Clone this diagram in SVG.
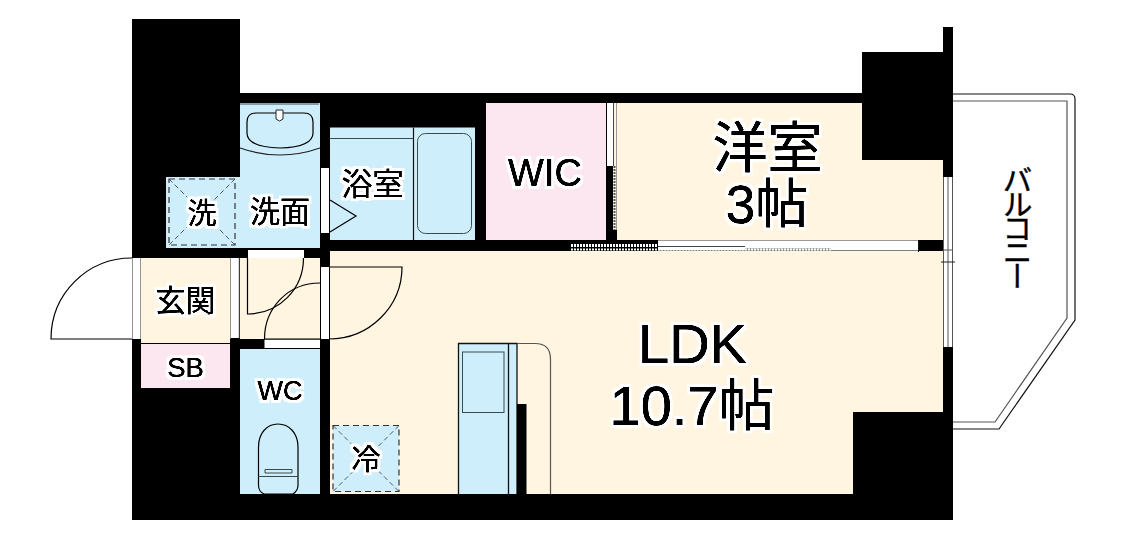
<svg xmlns="http://www.w3.org/2000/svg" width="1122" height="541" viewBox="0 0 1122 541">
<defs>
<filter id="halo" x="-20%" y="-30%" width="140%" height="160%" color-interpolation-filters="sRGB">
<feMorphology in="SourceAlpha" operator="dilate" radius="3" result="m"/>
<feGaussianBlur in="m" stdDeviation=".5" result="b"/>
<feFlood flood-color="#fff"/>
<feComposite in2="b" operator="in" result="white"/>
<feGaussianBlur in="SourceAlpha" stdDeviation=".45"/>
<feComponentTransfer result="bold"><feFuncA type="linear" slope="2.2"/></feComponentTransfer>
<feMerge><feMergeNode in="white"/><feMergeNode in="bold"/></feMerge>
</filter>
</defs>
<style>
.w{fill:#000}.blue{fill:#cfeefc}.cream{fill:#fff5e1}.pink{fill:#fce6f0}.gap{fill:#fff}
.l{fill:none;stroke:#000;stroke-width:1.2}.g{fill:none;stroke:#3a4a4a;stroke-width:1}
.d{fill:none;stroke:#333;stroke-width:1.2;stroke-dasharray:6 4}.dx{fill:none;stroke:#333;stroke-width:.8;stroke-dasharray:5 3}
text{font-family:"Liberation Sans","Noto Sans CJK JP",sans-serif;fill:#000;text-anchor:middle;filter:url(#halo)}
</style>
<g id="walls">
<rect class="w" x="132" y="19" width="108" height="501"/>
<rect class="w" x="132" y="93" width="821" height="427"/>
<rect class="w" x="862" y="52" width="91" height="108"/>
<rect class="w" x="943" y="27" width="10" height="25"/>
</g>
<g id="balcony">
<path d="M953 94H1070Q1075 94 1075 99V320L999 429H953" fill="#fff" stroke="#111" stroke-width="1.2"/>
<path d="M953 101H1067V318L995 422H953" fill="none" stroke="#555" stroke-width="1.2"/>
<text id="balcony-label" x="1015" y="165" font-size="30" letter-spacing="-6" style="writing-mode:vertical-rl;text-anchor:start;filter:none;stroke:#000;stroke-width:.4">バルコニー</text>
</g>
<g id="room-wash">
<path class="blue" d="M240 103H320V248H166V177H240Z"/>
<path class="g" d="M240 104H319"/>
<path d="M240 148Q280 162 320 148" fill="none" stroke="#222" stroke-width="1.2"/>
<path class="l" d="M256 113H304Q313 113 313 122V133Q313 147 280 148Q247 147 247 133V122Q247 113 256 113Z"/>
<path d="M276 110H283V119L279.500 121L276 119Z" fill="#fff" stroke="#222"/>
<rect class="d" x="169" y="179" width="66" height="66"/>
<path class="dx" d="M169 179L235 245M235 179L169 245"/>
<text x="202" y="224" font-size="29">洗</text>
<text x="280" y="222" font-size="30">洗面</text>
</g>
<g id="room-bath">
<rect class="blue" x="330" y="127.500" width="145" height="112.500"/>
<path class="g" d="M330 138.500H413"/>
<path d="M413.500 127.500V240" stroke="#111" stroke-width="1.2"/>
<rect class="g" x="417.500" y="133.500" width="54" height="100" rx="8"/>
<path class="l" d="M330 200L356 216L330 232"/>
<rect class="gap" x="321" y="168" width="8" height="65"/>
<text x="372.500" y="195" font-size="31">浴室</text>
</g>
<g id="room-wic">
<rect class="pink" x="486" y="103" width="120" height="137"/>
<text x="545" y="186" font-size="38">WIC</text>
</g>
<g id="room-western">
<path class="cream" d="M613 103H862V160H943V240H617V230H613Z"/>
<rect class="gap" x="607" y="103" width="6" height="63"/>
<path d="M613.500 103V166" stroke="#444" stroke-width="1"/>
<path d="M616.500 103V230" stroke="#999" stroke-width="1"/>
<rect class="w" x="607" y="166" width="6" height="64"/>
<path d="M614.500 166V230" stroke="#555" stroke-width="2" stroke-dasharray="2 1"/>
<text x="767.500" y="167" font-size="55">洋室</text>
<text x="767" y="223" font-size="53">3帖</text>
</g>
<g id="room-ldk">
<path class="cream" d="M330 251H943V412H853V494H330Z"/>
<rect class="gap" x="321" y="267" width="8" height="72"/>
<path class="l" d="M329 267H402C402 307 369 339 329 339"/>
<rect class="blue" x="458.500" y="343" width="58.500" height="151"/>
<path d="M458.500 494V343.500H517V494M508.500 343.500V494" fill="none" stroke="#111" stroke-width="1.300"/>
<rect class="g" x="462.500" y="352" width="41.500" height="60.500"/>
<path d="M517 343.500H535Q550.500 343.500 550.500 359V494" fill="none" stroke="#555" stroke-width="1.200"/>
<rect class="w" x="517" y="404" width="9.500" height="90"/>
<text x="692.500" y="363" font-size="56">LDK</text>
<text x="692" y="425" font-size="56">10.7帖</text>
</g>
<g id="room-fridge">
<rect class="blue" x="333" y="425.500" width="66" height="66"/>
<rect class="d" x="333" y="425.500" width="66" height="66"/>
<path class="dx" d="M333 425.500L399 491.500M399 425.500L333 491.500"/>
<text x="366" y="470" font-size="29">冷</text>
</g>
<g id="room-entrance">
<rect class="cream" x="141" y="258" width="89" height="85"/>
<rect class="gap" x="132.500" y="258" width="8" height="81"/>
<rect class="gap" x="230.500" y="258" width="8.500" height="80"/>
<path d="M132 339H51C51 294 87 258 132 258" class="l"/>
<path d="M132.500 258V339M140.500 258V339M230.500 258V339M239 258V338" stroke="#999" stroke-width=".8" fill="none"/>
<text x="185.500" y="311" font-size="30">玄関</text>
</g>
<g id="room-sb">
<rect class="pink" x="141" y="344" width="89" height="44"/>
<text x="185.500" y="377" font-size="27.500">SB</text>
</g>
<g id="room-hall">
<rect class="cream" x="240" y="258" width="80" height="81"/>
<rect class="gap" x="248" y="250" width="56" height="8"/>
<rect class="gap" x="264.500" y="339.500" width="55.500" height="8.500"/>
<path class="l" d="M247.500 258V314C279 314 303.500 289 303.500 258"/>
<path class="l" d="M320 283C288 283 264.500 308 264.500 339H320"/>
</g>
<g id="room-wc">
<rect class="blue" x="240" y="349" width="80" height="145"/>
<path class="l" d="M258.500 473V447C258.500 433 267 424 278 424C289 424 298 433 298 447V485C298 490 296 492 293 494H264C260 492 258.500 490 258.500 485Z"/>
<path class="g" d="M258.500 476.500H298M265 469.500H292V473H265Z"/>
<text x="280" y="400" font-size="27">WC</text>
</g>
<g id="connectors">
<rect class="gap" x="658" y="240" width="260" height="10.500"/>
<path d="M658 240.500H918" stroke="#999" stroke-width="1"/>
<path d="M658 246.500H745M745 249H831" stroke="#444" stroke-width="1"/>
<path d="M571 245.500H658" stroke="#fff" stroke-width="3" stroke-dasharray="2 1"/>
<path d="M571 249.500H831" stroke="#fff" stroke-width="2" stroke-dasharray="2 1"/>
<path d="M918.500 240V252" stroke="#111"/>
<rect class="gap" x="943" y="177" width="10" height="170"/>
<path d="M943.500 177V347M948 177V347M952.500 177V347M943 250H953" stroke="#555" stroke-width="1" fill="none"/>
<path d="M941 262H955" stroke="#222" stroke-width="1"/>
</g>
</svg>
